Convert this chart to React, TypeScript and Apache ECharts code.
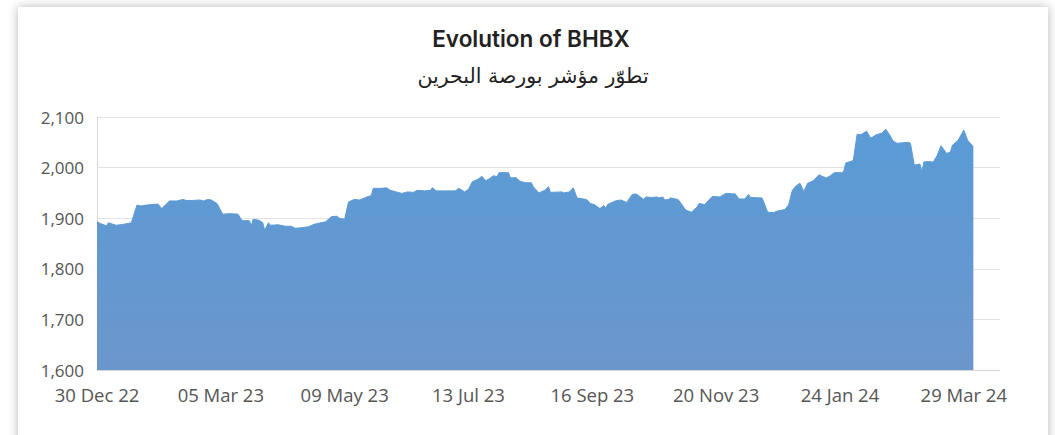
import React, { useEffect, useRef } from "react";
import * as echarts from "echarts";

const START_DATE = "2022-12-30";
const AXIS_DAYS = 475; // calendar days on the axis
const LABEL_STEP = 65; // a label every 65 days
const MONTHS = ["Jan", "Feb", "Mar", "Apr", "May", "Jun", "Jul", "Aug", "Sep", "Oct", "Nov", "Dec"];

const TITLE = "Evolution of BHBX";
const SUBTITLE = "تطوّر مؤشر بورصة البحرين";

const Y_MIN = 1600;
const Y_MAX = 2100;
const Y_STEP = 100;

const pointDates = [
  "2022-12-30", "2023-01-01", "2023-01-04", "2023-01-05", "2023-01-09", "2023-01-13", "2023-01-17", "2023-01-20",
  "2023-01-22", "2023-01-25", "2023-01-31", "2023-02-02", "2023-02-06", "2023-02-10", "2023-02-13", "2023-02-15",
  "2023-02-18", "2023-02-22", "2023-02-24", "2023-02-26", "2023-02-28", "2023-03-03", "2023-03-06", "2023-03-10",
  "2023-03-14", "2023-03-15", "2023-03-16", "2023-03-17", "2023-03-20", "2023-03-21", "2023-03-22", "2023-03-25",
  "2023-03-27", "2023-03-28", "2023-03-30", "2023-03-31", "2023-04-04", "2023-04-08", "2023-04-11", "2023-04-13",
  "2023-04-16", "2023-04-20", "2023-04-23", "2023-04-29", "2023-05-02", "2023-05-05", "2023-05-06", "2023-05-09",
  "2023-05-11", "2023-05-14", "2023-05-17", "2023-05-20", "2023-05-23", "2023-05-24", "2023-05-28", "2023-05-31",
  "2023-06-02", "2023-06-05", "2023-06-08", "2023-06-11", "2023-06-14", "2023-06-16", "2023-06-20", "2023-06-23",
  "2023-06-24", "2023-06-26", "2023-06-30", "2023-07-06", "2023-07-08", "2023-07-11", "2023-07-13", "2023-07-15",
  "2023-07-18", "2023-07-20", "2023-07-22", "2023-07-24", "2023-07-26", "2023-07-28", "2023-07-29", "2023-08-03",
  "2023-08-04", "2023-08-07", "2023-08-09", "2023-08-12", "2023-08-15", "2023-08-16", "2023-08-19", "2023-08-22",
  "2023-08-24", "2023-08-25", "2023-08-31", "2023-09-01", "2023-09-04", "2023-09-06", "2023-09-08", "2023-09-13",
  "2023-09-15", "2023-09-17", "2023-09-20", "2023-09-22", "2023-09-23", "2023-09-24", "2023-09-28", "2023-10-01",
  "2023-10-04", "2023-10-07", "2023-10-09", "2023-10-12", "2023-10-13", "2023-10-14", "2023-10-17", "2023-10-20",
  "2023-10-21", "2023-10-23", "2023-10-24", "2023-10-26", "2023-10-27", "2023-10-31", "2023-11-02", "2023-11-04",
  "2023-11-07", "2023-11-10", "2023-11-11", "2023-11-14", "2023-11-18", "2023-11-22", "2023-11-25", "2023-11-30",
  "2023-12-02", "2023-12-05", "2023-12-07", "2023-12-08", "2023-12-14", "2023-12-15", "2023-12-17", "2023-12-20",
  "2023-12-22", "2023-12-26", "2023-12-28", "2023-12-30", "2024-01-01", "2024-01-03", "2024-01-05", "2024-01-07",
  "2024-01-10", "2024-01-13", "2024-01-15", "2024-01-17", "2024-01-19", "2024-01-21", "2024-01-25", "2024-01-26",
  "2024-01-27", "2024-01-31", "2024-02-02", "2024-02-04", "2024-02-07", "2024-02-09", "2024-02-10", "2024-02-12",
  "2024-02-15", "2024-02-17", "2024-02-19", "2024-02-21", "2024-02-23", "2024-02-29", "2024-03-01", "2024-03-03",
  "2024-03-06", "2024-03-07", "2024-03-08", "2024-03-10", "2024-03-13", "2024-03-15", "2024-03-17", "2024-03-20",
  "2024-03-22", "2024-03-23", "2024-03-26", "2024-03-29", "2024-03-31", "2024-04-03",
];

const pointValues = [
  1893, 1889, 1885, 1891, 1886, 1888, 1891, 1926,
  1924, 1926, 1928, 1919, 1934, 1934, 1937, 1935,
  1935, 1936, 1934, 1937, 1936, 1929, 1908, 1909,
  1908, 1902, 1896, 1895, 1895, 1885, 1898, 1896,
  1891, 1876, 1891, 1886, 1887, 1884, 1884, 1880,
  1881, 1883, 1888, 1893, 1903, 1904, 1900, 1898,
  1932, 1937, 1936, 1941, 1945, 1959, 1959, 1960,
  1955, 1952, 1949, 1952, 1951, 1955, 1954, 1955,
  1960, 1954, 1954, 1954, 1959, 1952, 1957, 1972,
  1977, 1983, 1974, 1978, 1984, 1982, 1990, 1990,
  1980, 1980, 1973, 1970, 1970, 1962, 1950, 1955,
  1962, 1951, 1952, 1950, 1952, 1960, 1940, 1937,
  1929, 1927, 1919, 1925, 1920, 1927, 1934, 1936,
  1931, 1947, 1948, 1940, 1937, 1942, 1941, 1942,
  1940, 1942, 1936, 1937, 1940, 1937, 1927, 1916,
  1912, 1922, 1929, 1927, 1943, 1942, 1949, 1948,
  1938, 1938, 1947, 1941, 1940, 1932, 1912, 1911,
  1914, 1917, 1926, 1955, 1964, 1969, 1953, 1969,
  1974, 1986, 1982, 1980, 1984, 1990, 1990, 1993,
  2009, 2014, 2066, 2065, 2072, 2059, 2060, 2065,
  2068, 2076, 2065, 2052, 2048, 2050, 2048, 2005,
  2007, 1992, 2011, 2012, 2011, 2024, 2043, 2028,
  2031, 2044, 2054, 2074, 2054, 2041,
];

const DAY_MS = 86400000;
const startMs = Date.parse(START_DATE + "T00:00:00Z");

function pad2(n: number) {
  return n < 10 ? "0" + n : String(n);
}

const categories: string[] = Array.from({ length: AXIS_DAYS }, (_, i) => {
  const d = new Date(startMs + i * DAY_MS);
  return `${pad2(d.getUTCDate())} ${MONTHS[d.getUTCMonth()]} ${String(d.getUTCFullYear()).slice(2)}`;
});

function dayIndex(date: string) {
  return Math.round((Date.parse(date + "T00:00:00Z") - startMs) / DAY_MS);
}

export default function App() {
  const ref = useRef<HTMLDivElement>(null);

  useEffect(() => {
    if (!ref.current) return;
    const chart = echarts.init(ref.current, undefined, { renderer: "svg" });
    const seriesData = pointDates.map((d, i) => [dayIndex(d), pointValues[i]]);
    const labelFont = "'Open Sans', 'DejaVu Sans', sans-serif";

    chart.setOption({
      animation: false,
      backgroundColor: "transparent",
      graphic: [
        {
          type: "text",
          x: 531,
          y: 38,
          style: {
            text: TITLE,
            fill: "#222222",
            font: "600 22.5px Inter, 'Open Sans', sans-serif",
            align: "center",
            verticalAlign: "middle",
          },
        },
        {
          type: "text",
          x: 533,
          y: 76,
          style: {
            text: SUBTITLE,
            fill: "#222222",
            font: "400 20.5px 'DejaVu Sans', 'Noto Sans', sans-serif",
            align: "center",
            verticalAlign: "middle",
          },
        },
      ],
      grid: { left: 97, right: 55, top: 117, bottom: 65, containLabel: false },
      xAxis: {
        type: "category",
        data: categories,
        boundaryGap: false,
        axisLine: { show: true, lineStyle: { color: "#d4d4d4", width: 1 } },
        axisTick: { show: false },
        splitLine: { show: false },
        axisLabel: {
          interval: LABEL_STEP - 1,
          color: "#555555",
          fontSize: 18.5,
          fontFamily: labelFont,
          margin: 15,
        },
      },
      yAxis: {
        type: "value",
        min: Y_MIN,
        max: Y_MAX,
        interval: Y_STEP,
        axisLine: { show: true, lineStyle: { color: "#d9d9d9", width: 1 } },
        axisTick: { show: false },
        splitLine: { show: true, lineStyle: { color: "#e3e3e3", width: 1 } },
        axisLabel: {
          color: "#555555",
          fontSize: 17,
          fontFamily: labelFont,
          margin: 13,
          formatter: (v: number) => v.toLocaleString("en-US"),
        },
      },
      series: [
        {
          type: "line",
          data: seriesData,
          showSymbol: false,
          symbol: "none",
          smooth: false,
          lineStyle: { width: 1, color: "#5b9bd5" },
          areaStyle: {
            opacity: 1,
            color: new echarts.graphic.LinearGradient(0, 0, 0, 1, [
              { offset: 0, color: "#5a9bd6" },
              { offset: 1, color: "#6b96cc" },
            ]),
          },
        },
      ],
    });

    return () => chart.dispose();
  }, []);

  return (
    <div
      style={{
        position: "fixed",
        left: 0,
        top: 0,
        width: 1055,
        height: 435,
        background: "#ffffff",
        overflow: "hidden",
      }}
    >
      <div
        style={{
          position: "absolute",
          left: 18,
          top: 7,
          width: 1030,
          height: 460,
          background: "#ffffff",
          boxShadow: "0 0 10px rgba(0,0,0,0.28)",
        }}
      />
      <div ref={ref} style={{ position: "absolute", left: 0, top: 0, width: 1055, height: 435 }} />
    </div>
  );
}
